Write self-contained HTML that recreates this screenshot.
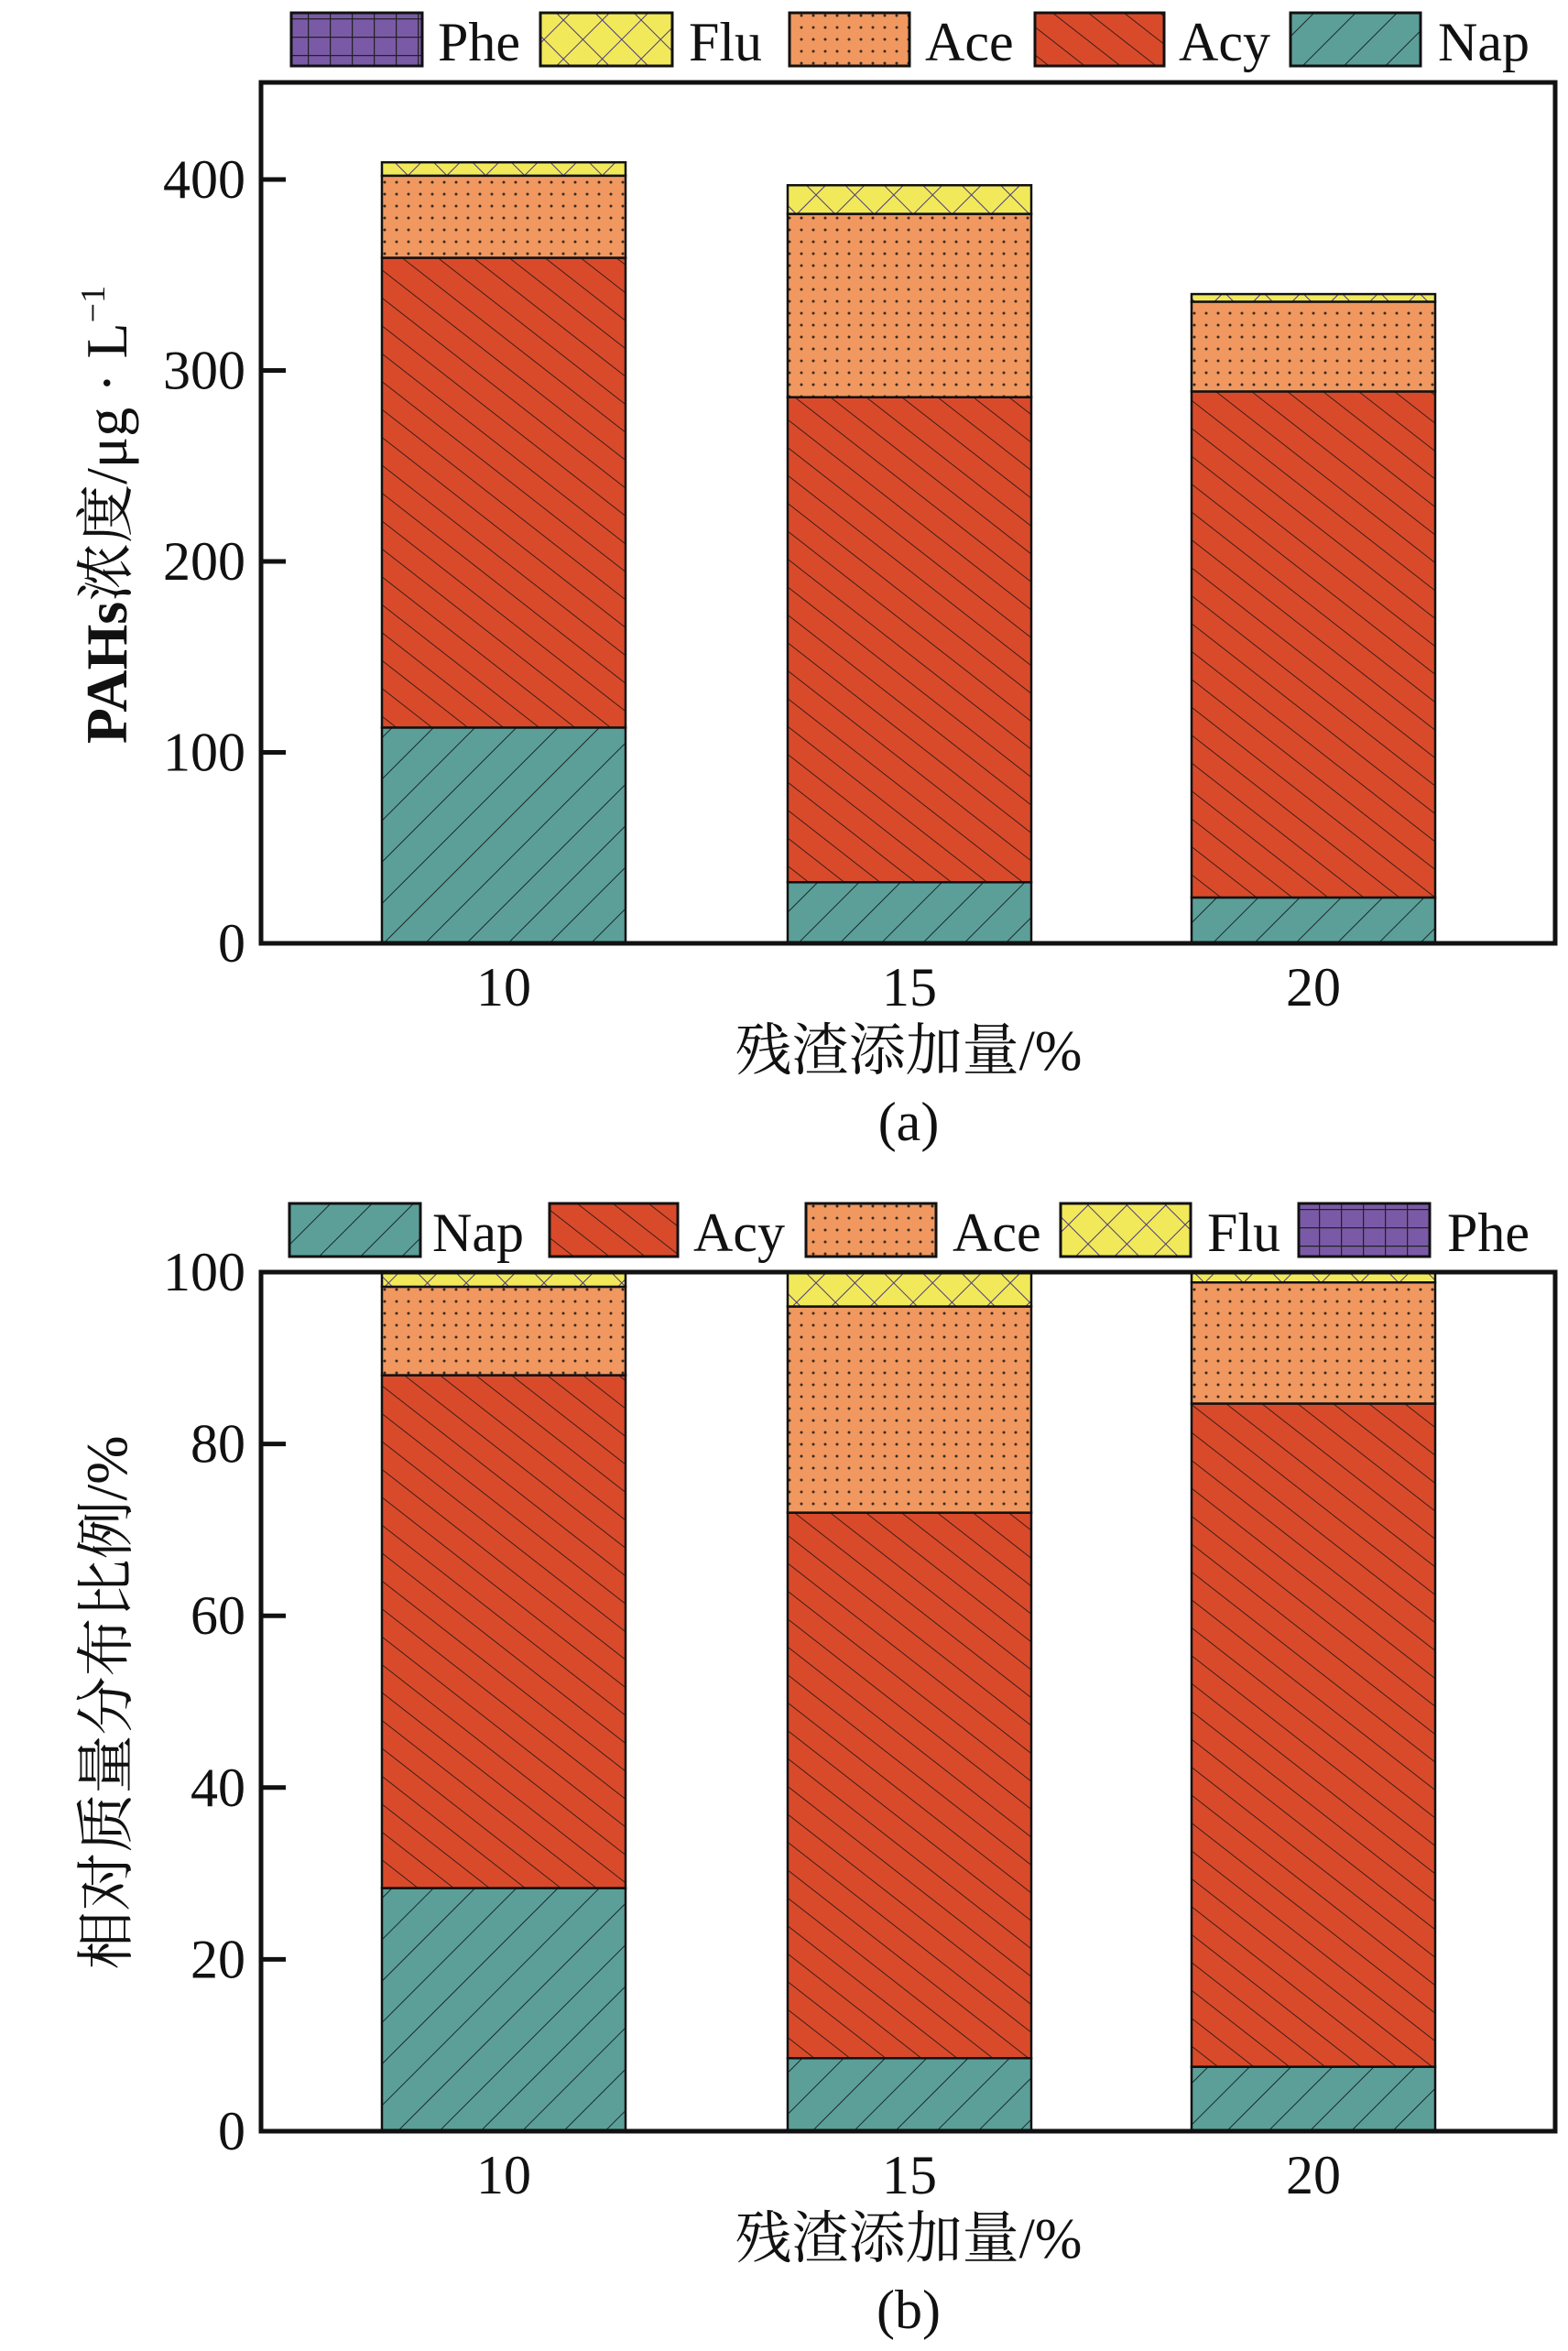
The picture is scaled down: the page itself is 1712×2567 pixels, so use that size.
<!DOCTYPE html>
<html><head><meta charset="utf-8"><style>
html,body{margin:0;padding:0;background:#fff;}
svg{display:block;}
text{font-family:"Liberation Serif","Noto Serif CJK SC",serif;fill:#111;}
</style></head><body>
<svg id="fig" width="1712" height="2567" viewBox="0 0 1712 2567" xmlns="http://www.w3.org/2000/svg">
<defs>
<pattern id="pNap" width="32" height="32" patternUnits="userSpaceOnUse" patternTransform="rotate(45)"><rect width="32" height="32" fill="#5c9f99"/><line x1="0" y1="0" x2="0" y2="32" stroke="#1a2a2a" stroke-width="2"/></pattern>
<pattern id="pAcy" width="24" height="24" patternUnits="userSpaceOnUse" patternTransform="rotate(-52)"><rect width="24" height="24" fill="#d94a2b"/><line x1="0" y1="0" x2="0" y2="24" stroke="#2a1a14" stroke-width="1.8"/></pattern>
<pattern id="pAce" width="13" height="13" patternUnits="userSpaceOnUse"><rect width="13" height="13" fill="#f0985f"/><circle cx="4" cy="4" r="1.5" fill="#3a2a20"/></pattern>
<pattern id="pFlu" width="30" height="30" patternUnits="userSpaceOnUse" patternTransform="rotate(45)"><rect width="30" height="30" fill="#f1e95a"/><line x1="0" y1="0" x2="30" y2="0" stroke="#4a3a80" stroke-width="2"/><line x1="0" y1="0" x2="0" y2="30" stroke="#4a3a80" stroke-width="2"/></pattern>
<pattern id="pPhe" width="24" height="20" patternUnits="userSpaceOnUse"><rect width="24" height="20" fill="#7a5aa6"/><line x1="0" y1="0" x2="24" y2="0" stroke="#222" stroke-width="2.5"/><line x1="0" y1="0" x2="0" y2="20" stroke="#222" stroke-width="2.5"/></pattern>
</defs>
<g id="chartA"></g>
<g id="chartB"></g>
</svg>
<script>
const categories = ["10","15","20"];
const seriesNames = ["Nap","Acy","Ace","Flu","Phe"];
const concNap = [113, 32, 24];
const concAcy = [246, 254, 265];
const concAce = [43, 96, 47];
const concFlu = [7, 15, 4];
const concPhe = [0, 0, 0];
const pctNap = [28.3, 8.5, 7.5];
const pctAcy = [59.7, 63.5, 77.2];
const pctAce = [10.3, 24.0, 14.1];
const pctFlu = [1.7, 4.0, 1.2];
const pctPhe = [0, 0, 0];
const ticksA = [0, 100, 200, 300, 400];
const ticksB = [0, 20, 40, 60, 80, 100];

const NS = "http://www.w3.org/2000/svg";
function mk(parent, tag, attrs, txt){
  const e = document.createElementNS(NS, tag);
  for (const k in attrs) e.setAttribute(k, attrs[k]);
  if (txt !== undefined) e.textContent = txt;
  parent.appendChild(e);
  return e;
}
const fills = {Nap:"url(#pNap)",Acy:"url(#pAcy)",Ace:"url(#pAce)",Flu:"url(#pFlu)",Phe:"url(#pPhe)"};
const barX = [417, 860, 1301];
const barW = 266;

function drawChart(g, cfg){
  const L=285, R=1698, T=cfg.top, B=cfg.bottom;
  const yScale = v => B - v / cfg.max * cfg.pxRange;
  const series = cfg.series;
  for (let i=0;i<categories.length;i++){
    let acc = 0;
    for (let s=0;s<seriesNames.length;s++){
      const v = series[s][i];
      if (v <= 0) continue;
      const y0 = yScale(acc), y1 = yScale(acc+v);
      const r = mk(g,"rect",{x:barX[i],y:y1,width:barW,height:y0-y1,fill:fills[seriesNames[s]],stroke:"#111","stroke-width":2.5});
      
      
      acc += v;
    }
  }
  const fr = mk(g,"rect",{x:L,y:T,width:R-L,height:B-T,fill:"none",stroke:"#111","stroke-width":5});
  
  
  cfg.ticks.forEach(t=>{
    const ty = yScale(t);
    const tl = mk(g,"line",{x1:L,y1:ty,x2:L+27,y2:ty,stroke:"#111","stroke-width":5});
    
    
    const tx = mk(g,"text",{x:268,y:ty+20,"text-anchor":"end","font-size":60},String(t));
    
    
  });
  categories.forEach((c,i)=>{
    const tx = mk(g,"text",{x:barX[i]+barW/2,y:B+68,"text-anchor":"middle","font-size":60},c);
    
    
  });
  const xl = mk(g,"text",{x:992,y:B+138,"text-anchor":"middle","font-size":62},"残渣添加量/%");
  
  
  const cap = mk(g,"text",{x:992,y:B+215,"text-anchor":"middle","font-size":60},cfg.caption);
  
  
  cfg.legend.forEach(it=>{
    const sw = mk(g,"rect",{x:it.x,y:cfg.legY,width:it.w,height:58,fill:fills[it.n],stroke:"#111","stroke-width":3});
    
    
    const lt = mk(g,"text",{x:it.tx,y:cfg.legY+52,"font-size":60},it.n);
    
    
  });
}

const gA = document.getElementById("chartA");
drawChart(gA,{top:90,bottom:1030,max:400,pxRange:834,ticks:ticksA,caption:"(a)",
  series:[concNap,concAcy,concAce,concFlu,concPhe],legY:14,
  legend:[{n:"Phe",x:318,w:143,tx:478},{n:"Flu",x:590,w:144,tx:752},{n:"Ace",x:862,w:131,tx:1010},{n:"Acy",x:1130,w:141,tx:1287},{n:"Nap",x:1409,w:142,tx:1570}]});
const ylA = mk(gA,"text",{transform:"translate(138,562) rotate(-90)","text-anchor":"middle","font-size":64});


const tsp = mk(ylA,"tspan",{"font-weight":"bold"},"PAHs");


const tsr = mk(ylA,"tspan",{},"浓度/μg · L");


const sup = mk(ylA,"tspan",{dy:-24,"font-size":38},"−1");



const gB = document.getElementById("chartB");
drawChart(gB,{top:1389,bottom:2327,max:100,pxRange:938,ticks:ticksB,caption:"(b)",
  series:[pctNap,pctAcy,pctAce,pctFlu,pctPhe],legY:1314,
  legend:[{n:"Nap",x:316,w:143,tx:472},{n:"Acy",x:600,w:140,tx:757},{n:"Ace",x:880,w:142,tx:1040},{n:"Flu",x:1158,w:142,tx:1318},{n:"Phe",x:1418,w:143,tx:1580}]});
const ylB = mk(gB,"text",{transform:"translate(138,1859) rotate(-90)","text-anchor":"middle","font-size":64},"相对质量分布比例/%");


</script>
</body></html>
